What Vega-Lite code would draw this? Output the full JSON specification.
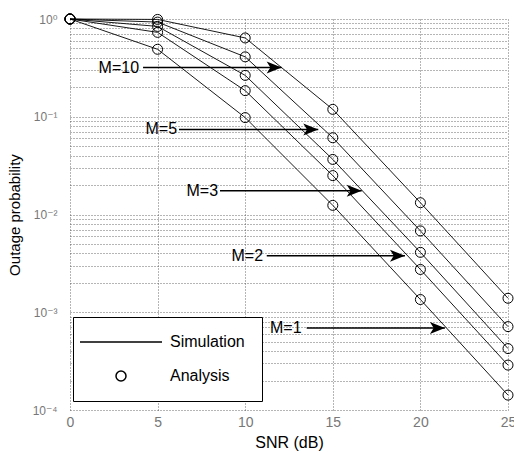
{
  "$schema": "https://vega.github.io/schema/vega-lite/v6.json",
  "autosize": {"type": "none"},
  "padding": {"left": 70, "top": 19, "right": 6, "bottom": 43},
  "width": 438,
  "height": 391,
  "background": "white",
  "config": {
    "view": {"stroke": null},
    "font": "Liberation Sans",
    "axis": {
      "grid": true,
      "gridColor": "#444",
      "gridDash": [1, 2],
      "gridWidth": 0.8,
      "domain": false,
      "ticks": false,
      "labelFont": "Liberation Sans, DejaVu Sans",
      "labelColor": "#777",
      "labelFlush": false,
      "labelOverlap": false,
      "titleFont": "Liberation Sans",
      "titleFontWeight": "normal",
      "titleColor": "black"
    }
  },
  "datasets": {
    "curves": [
      {"M": 1, "snr": 0, "p": 1}, {"M": 1, "snr": 5, "p": 0.49}, {"M": 1, "snr": 10, "p": 0.098}, {"M": 1, "snr": 15, "p": 0.0124}, {"M": 1, "snr": 20, "p": 0.00135}, {"M": 1, "snr": 25, "p": 0.000142},
      {"M": 2, "snr": 0, "p": 1}, {"M": 2, "snr": 5, "p": 0.73}, {"M": 2, "snr": 10, "p": 0.185}, {"M": 2, "snr": 15, "p": 0.025}, {"M": 2, "snr": 20, "p": 0.00274}, {"M": 2, "snr": 25, "p": 0.000288},
      {"M": 3, "snr": 0, "p": 1}, {"M": 3, "snr": 5, "p": 0.84}, {"M": 3, "snr": 10, "p": 0.265}, {"M": 3, "snr": 15, "p": 0.0366}, {"M": 3, "snr": 20, "p": 0.0041}, {"M": 3, "snr": 25, "p": 0.000425},
      {"M": 5, "snr": 0, "p": 1}, {"M": 5, "snr": 5, "p": 0.93}, {"M": 5, "snr": 10, "p": 0.41}, {"M": 5, "snr": 15, "p": 0.061}, {"M": 5, "snr": 20, "p": 0.0068}, {"M": 5, "snr": 25, "p": 0.000713},
      {"M": 10, "snr": 0, "p": 1}, {"M": 10, "snr": 5, "p": 0.99}, {"M": 10, "snr": 10, "p": 0.64}, {"M": 10, "snr": 15, "p": 0.119}, {"M": 10, "snr": 20, "p": 0.0132}, {"M": 10, "snr": 25, "p": 0.00139}
    ],
    "arrows": [
      {"label": "M=10", "tx": 3.94, "x1": 4.17, "x2": 12.08, "y": 0.319},
      {"label": "M=5", "tx": 6.11, "x1": 6.22, "x2": 14.17, "y": 0.0741},
      {"label": "M=3", "tx": 8.45, "x1": 8.56, "x2": 16.65, "y": 0.0175},
      {"label": "M=2", "tx": 11.02, "x1": 11.23, "x2": 19.12, "y": 0.00379},
      {"label": "M=1", "tx": 13.22, "x1": 13.51, "x2": 21.4, "y": 0.000689}
    ]
  },
  "layer": [
    {
      "data": {"name": "curves"},
      "mark": {"type": "line", "color": "black", "strokeWidth": 0.9},
      "encoding": {
        "x": {"field": "snr", "type": "quantitative", "title": "SNR (dB)",
          "scale": {"domain": [0, 25], "nice": false, "zero": false},
          "axis": {"values": [0, 5, 10, 15, 20, 25], "labelFontSize": 14, "labelPadding": 5, "titleFontSize": 16, "titlePadding": 5}},
        "y": {"field": "p", "type": "quantitative", "title": "Outage probability",
          "scale": {"type": "log", "domain": [0.0001, 1], "nice": false},
          "axis": {
            "values": [0.0001, 0.0002, 0.0003, 0.0004, 0.0005, 0.0006, 0.0007, 0.0008, 0.0009, 0.001, 0.002, 0.003, 0.004, 0.005, 0.006, 0.007, 0.008, 0.009, 0.01, 0.02, 0.03, 0.04, 0.05, 0.06, 0.07, 0.08, 0.09, 0.1, 0.2, 0.3, 0.4, 0.5, 0.6, 0.7, 0.8, 0.9, 1],
            "labelExpr": "abs(datum.value-1)<1e-9 ? '10⁰' : abs(datum.value-0.1)<1e-9 ? '10⁻¹' : abs(datum.value-0.01)<1e-10 ? '10⁻²' : abs(datum.value-0.001)<1e-11 ? '10⁻³' : abs(datum.value-0.0001)<1e-12 ? '10⁻⁴' : ''",
            "labelFontSize": 12, "labelPadding": 13, "titleFontSize": 15, "titlePadding": 10}},
        "detail": {"field": "M", "type": "nominal"}
      }
    },
    {
      "data": {"name": "curves"},
      "mark": {"type": "point", "filled": false, "color": "black", "strokeWidth": 1, "size": 100, "opacity": 1},
      "encoding": {
        "x": {"field": "snr", "type": "quantitative", "title": "SNR (dB)"},
        "y": {"field": "p", "type": "quantitative", "title": "Outage probability"},
        "shape": {
          "datum": "Analysis", "type": "nominal",
          "scale": {"domain": ["Simulation", "Analysis"], "range": ["M-8.2,0L8.2,0", "circle"]},
          "legend": {
            "title": null, "orient": "none", "legendX": 3, "legendY": 298, "direction": "vertical",
            "fillColor": "white", "strokeColor": "black", "padding": 17,
            "symbolSize": 100, "symbolStrokeWidth": 1.5, "symbolStrokeColor": "black", "symbolFillColor": "transparent",
            "symbolOffset": 23, "labelOffset": 41, "rowPadding": 18,
            "labelFont": "Liberation Sans", "labelFontSize": 16, "labelColor": "black"
          }
        }
      }
    },
    {
      "data": {"name": "arrows"},
      "mark": {"type": "rule", "color": "black", "strokeWidth": 1.5},
      "encoding": {
        "x": {"field": "x1", "type": "quantitative", "title": "SNR (dB)"},
        "x2": {"field": "x2"},
        "y": {"field": "y", "type": "quantitative", "title": "Outage probability"}
      }
    },
    {
      "data": {"name": "arrows"},
      "mark": {"type": "point", "shape": "M0,0L-1,-0.4L-0.75,0L-1,0.4Z", "size": 900, "filled": true, "color": "black", "opacity": 1},
      "encoding": {
        "x": {"field": "x2", "type": "quantitative", "title": "SNR (dB)"},
        "y": {"field": "y", "type": "quantitative", "title": "Outage probability"}
      }
    },
    {
      "data": {"name": "arrows"},
      "mark": {"type": "text", "align": "right", "baseline": "middle", "fontSize": 16, "font": "Liberation Sans", "color": "black"},
      "encoding": {
        "x": {"field": "tx", "type": "quantitative", "title": "SNR (dB)"},
        "y": {"field": "y", "type": "quantitative", "title": "Outage probability"},
        "text": {"field": "label"}
      }
    }
  ]
}
